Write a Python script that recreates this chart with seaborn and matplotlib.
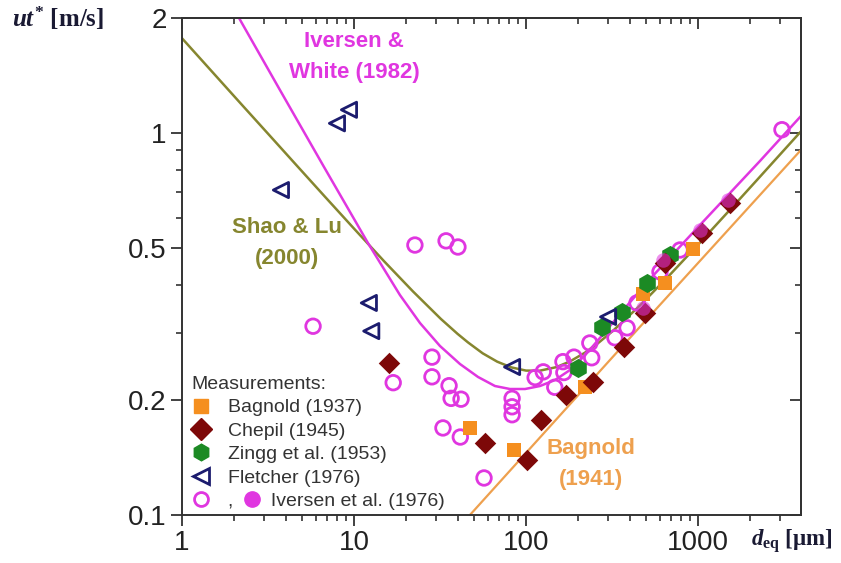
import matplotlib
matplotlib.use("Agg")
import matplotlib.pyplot as plt
import matplotlib.ticker as mticker
from matplotlib.lines import Line2D
from matplotlib.legend_handler import HandlerBase
import pandas as pd
import seaborn as sns

# particle diameter d_eq [um] and threshold friction velocity ut* [m/s]
bagnold37_d = [47.2, 85.1, 220, 479, 643, 935]
bagnold37_u = [0.169, 0.148, 0.216, 0.379, 0.404, 0.497]

chepil_d = [16.0, 57.8, 101, 122, 171, 245, 371, 492, 643, 1055, 1535]
chepil_u = [0.250, 0.154, 0.139, 0.177, 0.206, 0.223, 0.275, 0.338, 0.457, 0.547, 0.656]

zingg_d = [201, 277, 362, 505, 687]
zingg_u = [0.243, 0.310, 0.340, 0.404, 0.480]

fletcher_d = [3.76, 7.96, 9.35, 12.2, 12.6, 83, 300]
fletcher_u = [0.709, 1.06, 1.15, 0.359, 0.303, 0.244, 0.330]

iversen_open_d = [5.78, 22.6, 34.3, 40.2, 16.9, 28.4, 28.4, 35.7, 36.7, 41.9, 32.9, 41.5,
                  57.0, 83, 83, 83, 113, 126, 147, 164, 166, 190, 235, 241, 329, 387,
                  442, 601, 786, 3077]
iversen_open_u = [0.312, 0.509, 0.522, 0.503, 0.222, 0.259, 0.230, 0.218, 0.202, 0.201,
                  0.169, 0.160, 0.125, 0.202, 0.192, 0.183, 0.229, 0.237, 0.216, 0.252,
                  0.236, 0.259, 0.282, 0.258, 0.291, 0.309, 0.359, 0.433, 0.494, 1.02]

iversen_fill_d = [479, 626, 1027, 1494]
iversen_fill_u = [0.348, 0.466, 0.557, 0.668]

# curves
iw82_d = [2.145, 3.71, 6.69, 12.06, 18.5, 24.2, 31.6, 41.3, 52.6, 66.0, 80.7, 98.7,
          120.6, 147.5, 180.3, 226.3, 287.9, 376.4, 526, 735, 1027, 1535, 2292, 3970]
iw82_u = [2.00, 1.296, 0.815, 0.515, 0.3765, 0.318, 0.277, 0.2485, 0.2298, 0.2176,
          0.2137, 0.2137, 0.2176, 0.2256, 0.2397, 0.2655, 0.3013, 0.3482, 0.4148,
          0.4882, 0.5743, 0.6966, 0.8447, 1.108]

shao_d = [1.0, 1.5, 2.2, 3.2, 4.6, 6.8, 10, 15, 22, 32, 40, 46, 56, 68, 82, 100, 120,
          150, 180, 220, 260, 320, 460, 680, 1000, 1500, 2200, 3200, 3970]
shao_u = [1.770, 1.445, 1.193, 0.990, 0.826, 0.680, 0.562, 0.461, 0.385, 0.326, 0.298,
          0.283, 0.265, 0.252, 0.2435, 0.2388, 0.2386, 0.2438, 0.2523, 0.266, 0.2808,
          0.3034, 0.3536, 0.4235, 0.510, 0.6226, 0.7528, 0.9073, 1.010]

bagnold41_d = [47.2, 460, 3970]
bagnold41_u = [0.100, 0.311, 0.903]

MAG = '#e036e0'
OLIVE = '#86862f'
ORANGE_LINE = '#eea04e'
ORANGE = '#f58f1f'
DARKRED = '#7d0808'
GREEN = '#1c8a24'
NAVY = '#1c1c6e'
GREY = '#333333'


class IversenHandler(HandlerBase):
    # open circle, then filled circle further right
    def create_artists(self, legend, orig_handle, xdescent, ydescent, width, height,
                       fontsize, trans):
        cx = width / 2 - xdescent
        cy = height / 2 - ydescent
        a = Line2D([cx], [cy], ls='none', marker='o', ms=10, mfc='none', mec=MAG, mew=2,
                   transform=trans)
        b = Line2D([cx + 37], [cy], ls='none', marker='o', ms=11, mfc=MAG, mec=MAG,
                   transform=trans)
        return [a, b]


sns.set_theme(style="ticks")
plt.rcParams['font.family'] = ['Liberation Sans', 'DejaVu Sans']
plt.rcParams['mathtext.fontset'] = 'custom'
plt.rcParams['mathtext.rm'] = 'Liberation Serif:bold'
plt.rcParams['mathtext.it'] = 'Liberation Serif:italic:bold'
plt.rcParams['mathtext.bf'] = 'Liberation Serif:bold'

fig = plt.figure(figsize=(8.41, 5.63), dpi=100)
ax = fig.add_axes([182 / 841, 48 / 563, 619 / 841, 497 / 563])
ax.set_xscale('log')
ax.set_yscale('log')

sns.lineplot(x=shao_d, y=shao_u, sort=False, estimator=None, color=OLIVE, lw=1.8, ax=ax)
sns.lineplot(x=bagnold41_d, y=bagnold41_u, sort=False, estimator=None, color=ORANGE_LINE,
             lw=1.6, ax=ax)
sns.lineplot(x=iw82_d, y=iw82_u, sort=False, estimator=None, color=MAG, lw=1.8, ax=ax)

sns.scatterplot(x=iversen_open_d, y=iversen_open_u, marker='o', s=110, facecolor='none',
                edgecolor=MAG, linewidth=2, ax=ax, zorder=3)
sns.scatterplot(x=bagnold37_d, y=bagnold37_u, marker='s', s=95, color=ORANGE,
                edgecolor=ORANGE, linewidth=0, ax=ax, zorder=4)
sns.scatterplot(x=zingg_d, y=zingg_u, marker='h', s=190, color=GREEN, edgecolor=GREEN,
                linewidth=0, ax=ax, zorder=4)
sns.scatterplot(x=chepil_d, y=chepil_u, marker='D', s=120, color=DARKRED, edgecolor=DARKRED,
                linewidth=0, ax=ax, zorder=5)
sns.scatterplot(x=iversen_fill_d, y=iversen_fill_u, marker='o', s=110, color=MAG,
                edgecolor=MAG, linewidth=0, alpha=0.55, ax=ax, zorder=6)
sns.scatterplot(x=fletcher_d, y=fletcher_u, marker='<', s=120, facecolor='none',
                edgecolor=NAVY, linewidth=2, ax=ax, zorder=6)

ax.set_xlim(1, 3970)
ax.set_ylim(0.1, 2)
ax.set_xticks([1, 10, 100, 1000])
ax.set_xticklabels(['1', '10', '100', '1000'])
ax.set_yticks([0.1, 0.2, 0.5, 1, 2])
ax.set_yticklabels(['0.1', '0.2', '0.5', '1', '2'])
ax.set_xlabel('')
ax.set_ylabel('')
ax.tick_params(which='major', direction='out', length=8, width=1.3, colors=GREY,
               labelsize=20, labelcolor='#222222', pad=3)
ax.tick_params(which='minor', direction='out', length=4, width=1.2, colors=GREY)
for sp in ax.spines.values():
    sp.set_visible(True)
    sp.set_color(GREY)
    sp.set_linewidth(1.4)

top = ax.secondary_xaxis('top')
top.set_xticks([1, 10, 100, 1000])
top.xaxis.set_major_formatter(mticker.NullFormatter())
top.xaxis.set_minor_formatter(mticker.NullFormatter())
top.tick_params(which='major', direction='in', length=8, width=1.3, colors=GREY)
top.tick_params(which='minor', direction='in', length=4, width=1.2, colors=GREY)
right = ax.secondary_yaxis('right')
right.set_yticks([0.1, 0.2, 0.5, 1, 2])
right.yaxis.set_major_formatter(mticker.NullFormatter())
right.yaxis.set_minor_formatter(mticker.NullFormatter())
right.tick_params(which='major', direction='in', length=8, width=1.3, colors=GREY)
right.tick_params(which='minor', direction='in', length=4, width=1.2, colors=GREY)

# curve labels
ax.text(10.0, 1.58, 'Iversen &\nWhite (1982)', color=MAG, fontsize=16, fontweight='bold',
        ha='center', va='center', linespacing=1.65)
ax.text(4.08, 0.515, 'Shao & Lu\n(2000)', color=OLIVE, fontsize=16, fontweight='bold',
        ha='center', va='center', linespacing=1.6)
ax.text(239, 0.136, 'Bagnold\n(1941)', color=ORANGE_LINE, fontsize=16, fontweight='bold',
        ha='center', va='center', linespacing=1.65)

# legend
handles = [
    Line2D([], [], ls='none', marker='s', ms=10, mfc=ORANGE, mec=ORANGE),
    Line2D([], [], ls='none', marker='D', ms=11, mfc=DARKRED, mec=DARKRED),
    Line2D([], [], ls='none', marker='h', ms=12, mfc=GREEN, mec=GREEN),
    Line2D([], [], ls='none', marker='<', ms=11, mfc='none', mec=NAVY, mew=2),
]
iv_handle = Line2D([], [], ls='none')
handles.append(iv_handle)
labels = ['Bagnold (1937)', 'Chepil (1945)', 'Zingg et al. (1953)', 'Fletcher (1976)',
          ',       Iversen et al. (1976)']
leg = ax.legend(handles, labels, loc='lower left', bbox_to_anchor=(0.006, -0.002),
                frameon=False, fontsize=14, title='Measurements:', title_fontsize=14,
                alignment='left', handlelength=0.95, handletextpad=0.9, labelspacing=0.3,
                borderpad=0.3, borderaxespad=0.0, handler_map={iv_handle: IversenHandler()})
for t in leg.get_texts():
    t.set_color(GREY)
leg.get_title().set_color(GREY)

fig.text(0.014, 0.968, r'$ut^{*}$ [m/s]', fontsize=18, fontfamily='Liberation Serif',
         fontweight='bold', color='#1a1a33', ha='left', va='center')
fig.text(0.893, 0.039, r'$d_{\mathrm{eq}}$ [μm]', fontsize=16.5, fontfamily='Liberation Serif',
         fontweight='bold', color='#1a1a33', ha='left', va='center')

fig.savefig('out.png', dpi=100)
